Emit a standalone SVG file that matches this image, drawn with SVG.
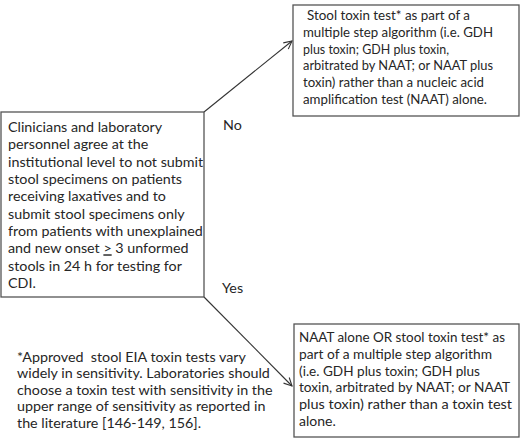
<svg xmlns="http://www.w3.org/2000/svg" width="520" height="440" viewBox="0 0 520 440">
<style>
text{font-family:Lato,"Open Sans","Liberation Sans",sans-serif;font-size:14.3px;fill:#262626}
.r{font-size:14px}
.box{fill:#fff;stroke:#555;stroke-width:1.3}
.conn{stroke:#333;stroke-width:1.1;fill:none}
</style>
<defs>
<marker id="arr" markerWidth="10" markerHeight="10" refX="9" refY="5" orient="auto" markerUnits="userSpaceOnUse">
<path d="M1,1 L9,5 L1,9" fill="none" stroke="#333" stroke-width="1.1"/>
</marker>
</defs>
<rect width="520" height="440" fill="#fff"/>
<g id="connectors">
<line class="conn" x1="204" y1="112" x2="292" y2="41" marker-end="url(#arr)"/>
<line class="conn" x1="204" y1="297" x2="292" y2="386" marker-end="url(#arr)"/>
<text x="223" y="130">No</text>
<text x="222" y="293">Yes</text>
</g>
<g id="decision">
<rect class="box" x="1" y="112" width="203" height="185"/>
<text x="8" y="132">Clinicians and laboratory</text>
<text x="8" y="149.3">personnel agree at the</text>
<text x="8" y="166.7">institutional level to not submit</text>
<text x="8" y="184">stool specimens on patients</text>
<text x="8" y="201.3">receiving laxatives and to</text>
<text x="8" y="218.7">submit stool specimens only</text>
<text x="8" y="236">from patients with unexplained</text>
<text x="8" y="253.3">and new onset <tspan text-decoration="underline">&gt;</tspan> 3 unformed</text>
<text x="8" y="270.7">stools in 24 h for testing for</text>
<text x="8" y="288">CDI.</text>
</g>
<g id="no-result">
<rect class="box" x="293" y="5" width="226" height="111"/>
<text class="r" x="307" y="20" textLength="163" lengthAdjust="spacingAndGlyphs">Stool toxin test* as part of a</text>
<text class="r" x="303" y="36.8" textLength="190" lengthAdjust="spacingAndGlyphs">multiple step algorithm (i.e. GDH</text>
<text class="r" x="303" y="53.6" textLength="146" lengthAdjust="spacingAndGlyphs">plus toxin; GDH plus toxin,</text>
<text class="r" x="303" y="70.4" textLength="190" lengthAdjust="spacingAndGlyphs">arbitrated by NAAT; or NAAT plus</text>
<text class="r" x="303" y="87.2" textLength="181" lengthAdjust="spacingAndGlyphs">toxin) rather than a nucleic acid</text>
<text class="r" x="303" y="104" textLength="184" lengthAdjust="spacingAndGlyphs">amplification test (NAAT) alone.</text>
</g>
<g id="yes-result">
<rect class="box" x="294" y="324" width="225" height="113"/>
<text class="r" x="299" y="342" textLength="206" lengthAdjust="spacingAndGlyphs">NAAT alone OR stool toxin test* as</text>
<text class="r" x="299" y="358.8" textLength="193" lengthAdjust="spacingAndGlyphs">part of a multiple step algorithm</text>
<text class="r" x="299" y="375.6" textLength="181" lengthAdjust="spacingAndGlyphs">(i.e. GDH plus toxin; GDH plus</text>
<text class="r" x="299" y="392.4" textLength="211" lengthAdjust="spacingAndGlyphs">toxin, arbitrated by NAAT; or NAAT</text>
<text class="r" x="299" y="409.2" textLength="213" lengthAdjust="spacingAndGlyphs">plus toxin) rather than a toxin test</text>
<text class="r" x="299" y="426">alone.</text>
</g>
<g id="footnote">
<text x="17" y="361.5" xml:space="preserve">*Approved  stool EIA toxin tests vary</text>
<text x="17" y="378">widely in sensitivity. Laboratories should</text>
<text x="17" y="394.7">choose a toxin test with sensitivity in the</text>
<text x="17" y="411.3">upper range of sensitivity as reported in</text>
<text x="17" y="428">the literature [146-149, 156].</text>
</g>
</svg>
